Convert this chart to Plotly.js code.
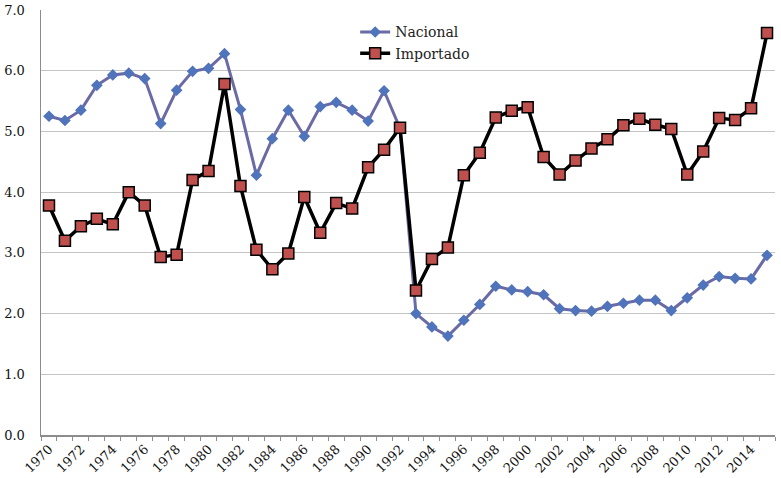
<!DOCTYPE html>
<html>
<head>
<meta charset="utf-8">
<script src="https://cdn.plot.ly/plotly-3.0.1.min.js"></script>
<style>html,body{margin:0;padding:0;background:#fff;}#chart{width:781px;height:478px;}</style>
</head>
<body>
<div id="chart"></div>
<script>
var years = [1970,1971,1972,1973,1974,1975,1976,1977,1978,1979,1980,1981,1982,1983,1984,1985,1986,1987,1988,1989,1990,1991,1992,1993,1994,1995,1996,1997,1998,1999,2000,2001,2002,2003,2004,2005,2006,2007,2008,2009,2010,2011,2012,2013,2014,2015];
var nacional = [5.25,5.18,5.35,5.76,5.93,5.96,5.87,5.13,5.68,5.99,6.04,6.28,5.36,4.28,4.88,5.35,4.92,5.41,5.48,5.35,5.17,5.67,5.05,2.00,1.78,1.63,1.89,2.15,2.45,2.39,2.36,2.31,2.08,2.05,2.04,2.12,2.17,2.22,2.22,2.05,2.26,2.47,2.61,2.58,2.57,2.96];
var importado = [3.78,3.20,3.44,3.56,3.47,4.00,3.78,2.93,2.97,4.20,4.35,5.78,4.10,3.05,2.73,2.99,3.92,3.33,3.82,3.73,4.41,4.70,5.06,2.38,2.90,3.09,4.28,4.65,5.23,5.34,5.40,4.58,4.29,4.52,4.72,4.87,5.10,5.21,5.11,5.04,4.29,4.67,5.22,5.19,5.38,6.62];
var labelYears = [1970,1972,1974,1976,1978,1980,1982,1984,1986,1988,1990,1992,1994,1996,1998,2000,2002,2004,2006,2008,2010,2012,2014];
var yTicks = [0,1,2,3,4,5,6,7];

var boundaries = [];
for (var i = 0; i <= years.length; i++) boundaries.push(years[0] - 0.5 + i);

var serif = "DejaVu Serif, Liberation Serif, serif";

var traces = [
  {
    x: years, y: nacional, name: "Nacional", type: "scatter", mode: "lines+markers",
    line: {color: "#6a6aa6", width: 3},
    marker: {symbol: "diamond", size: 9, color: "#4f74bc"}
  },
  {
    x: years, y: importado, name: "Importado", type: "scatter", mode: "lines+markers",
    line: {color: "#000000", width: 3.5},
    marker: {symbol: "square", size: 11, color: "#c0504d", line: {color: "#000000", width: 1.5}}
  }
];

var layout = {
  width: 781, height: 478,
  margin: {l: 41, r: 6, t: 10, b: 43},
  paper_bgcolor: "#ffffff", plot_bgcolor: "#ffffff",
  showlegend: true,
  legend: {x: 0.428, y: 0.985, xanchor: "left", yanchor: "top", bgcolor: "rgba(0,0,0,0)",
           font: {family: serif, size: 14, color: "#222"}, tracegroupgap: 0, itemwidth: 30},
  xaxis: {
    range: [years[0] - 0.5, years[years.length - 1] + 0.5],
    tickmode: "array", tickvals: labelYears, ticktext: labelYears.map(String),
    tickangle: -45, ticks: "", showgrid: false, zeroline: false,
    showline: true, linecolor: "#8c8c8c", linewidth: 1.5,
    tickfont: {family: serif, size: 13, color: "#111"},
    minor: {tickmode: "array", tickvals: boundaries, ticks: "outside", ticklen: 4, tickcolor: "#8c8c8c", tickwidth: 1, showgrid: false}
  },
  yaxis: {
    range: [0, 7], tickmode: "array", tickvals: yTicks, ticktext: yTicks.map(function(v){return v.toFixed(1);}),
    showgrid: true, gridcolor: "#c4c4c4", gridwidth: 1, zeroline: false,
    showline: true, linecolor: "#8c8c8c", linewidth: 1.5,
    ticks: "", ticklabelstandoff: 12,
    tickfont: {family: serif, size: 13, color: "#111"}
  }
};

Plotly.newPlot("chart", traces, layout, {displayModeBar: false, staticPlot: true});
</script>
</body>
</html>
